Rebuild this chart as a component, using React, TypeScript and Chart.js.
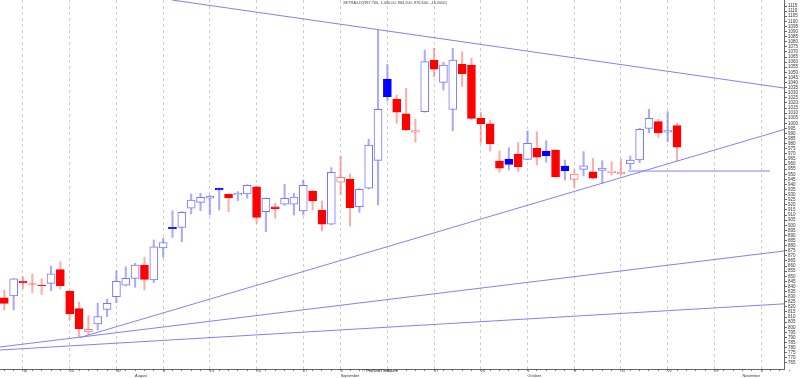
import React, { useEffect, useRef } from "react";
import { Chart, registerables } from "chart.js";

Chart.register(...registerables);

// Trading days shown (index 0 = first visible bar); future days extend the axis
const dates = [
  "2012-07-12", "2012-07-13", "2012-07-16", "2012-07-17", "2012-07-18", "2012-07-19", "2012-07-20",
  "2012-07-23", "2012-07-24", "2012-07-25", "2012-07-26", "2012-07-27", "2012-07-30", "2012-07-31",
  "2012-08-01", "2012-08-02", "2012-08-03", "2012-08-06", "2012-08-07", "2012-08-08", "2012-08-09",
  "2012-08-10", "2012-08-13", "2012-08-14", "2012-08-15", "2012-08-16", "2012-08-17", "2012-08-20",
  "2012-08-21", "2012-08-22", "2012-08-23", "2012-08-24", "2012-08-27", "2012-08-28", "2012-08-29",
  "2012-08-30", "2012-08-31", "2012-09-04", "2012-09-05", "2012-09-06", "2012-09-07", "2012-09-10",
  "2012-09-11", "2012-09-12", "2012-09-13", "2012-09-14", "2012-09-17", "2012-09-18", "2012-09-19",
  "2012-09-20", "2012-09-21", "2012-09-24", "2012-09-25", "2012-09-26", "2012-09-27", "2012-09-28",
  "2012-10-01", "2012-10-02", "2012-10-03", "2012-10-04", "2012-10-05", "2012-10-08", "2012-10-09",
  "2012-10-10", "2012-10-11", "2012-10-12", "2012-10-15", "2012-10-16", "2012-10-17", "2012-10-18",
  "2012-10-19", "2012-10-22", "2012-10-23", "2012-10-24", "2012-10-25", "2012-10-26", "2012-10-29",
  "2012-10-30", "2012-10-31", "2012-11-01", "2012-11-02", "2012-11-05", "2012-11-06", "2012-11-07",
  "2012-11-08",
];

const openV = [
  829, 830.7, 845.4, 842.7, 841.5, 843.1, 856.5, 835.3, 818.3, 795.4,
  803.2, 817.6, 830, 841.2, 848, 860.8, 846.4, 877.7, 898, 898,
  916.7, 922.5, 926.5, 936.3, 930.4, 929.7, 930.7, 937.8, 913.3, 918.2,
  920.6, 920.6, 914, 933.6, 914.7, 901, 942.2, 945.1, 918.2, 936.3,
  963.7, 1043.4, 1023.5, 1009.4, 991.2, 1011.4, 1061.8, 1040.2, 1013.7, 1057.8,
  1057.2, 1004.9, 999.6, 963, 965, 969.6, 964.7, 975.5, 972.8, 973.8,
  958.1, 945.1, 954.9, 952.5, 953.9, 951.6, 950.3, 960.1, 964, 995.1,
  1001.6, 991.2, 997.7,
];
const highV = [
  836.6, 848, 849.6, 852.3, 847.6, 860.1, 864.3, 836, 824.8, 811.4,
  823.5, 827.7, 855.5, 859.4, 862.7, 868.6, 885.6, 887.3, 914.3, 913.5,
  930.7, 931.4, 929.5, 936.8, 930.8, 933, 939.8, 938.5, 927, 921.6,
  940.2, 931.4, 944.4, 934, 923.8, 956.5, 968, 950.3, 936, 984.3,
  1092, 1057.8, 1027.7, 1034.3, 1004.2, 1071.9, 1073.5, 1059.8, 1073.5, 1070.2,
  1063.7, 1010.8, 1003.2, 972.8, 976.1, 981.4, 992.7, 991.8, 982.9, 974.3,
  964, 954.2, 972.2, 965.7, 963.3, 962.4, 964.7, 967.9, 995.1, 1013.7,
  1003.9, 1011.4, 1000,
];
const lowV = [
  817, 817, 838.2, 834, 832, 835.9, 837.5, 807.8, 790.8, 792.5,
  797.4, 810.4, 824.1, 840.5, 839.2, 836.6, 843.7, 868.6, 888.2, 883.9,
  911.1, 914.3, 910.1, 915, 913.3, 924.1, 926.5, 902, 893.7, 906.9,
  919.5, 910.1, 910.1, 915, 894.4, 900.5, 930.4, 899.3, 912.7, 935.5,
  919.9, 1021.9, 1000, 993, 981.4, 1010.8, 1045.7, 1032.6, 992.5, 1035.9,
  1003.2, 980.4, 972.8, 952, 954.2, 952.5, 964.2, 959.1, 961.8, 947,
  944.4, 937.3, 948.3, 945.5, 941.2, 949.3, 949.8, 954.9, 961.4, 990.8,
  986.3, 982, 963.2,
];
const closeV = [
  823.5, 847.4, 843.7, 842.2, 840.8, 852.3, 840.8, 813, 798.6, 798,
  810.4, 823.5, 845.1, 848, 861.1, 847, 879, 883, 896.7, 912.7,
  924.8, 927.5, 928.7, 934.6, 926.8, 931.4, 939.2, 907.8, 926.5, 916.3,
  926.5, 927.7, 939.2, 924.1, 901, 952, 947.1, 917.3, 935.3, 978.7,
  1013.7, 1026.1, 1010.8, 993.4, 992.8, 1060.4, 1053.2, 1057.2, 1062.1, 1048.6,
  1004.9, 999.3, 980, 955.9, 959.8, 957.5, 980.4, 966.7, 968.2, 947.6,
  953.5, 950.3, 958.4, 946.1, 956.2, 953.2, 952.3, 964, 994.1, 1004.9,
  990.8, 992.8, 976.6,
];

// Weekly grid lines (bar index) and their day labels
const gridIdx = [2, 7, 12, 17, 22, 27, 32, 36, 41, 46, 51, 56, 61, 66, 71, 76, 81];
const gridDayLabels = ["16", "23", "30", "6", "13", "20", "27", "3", "10", "17", "24", "1", "8", "15", "22", "29", "5"];
// Month labels (bar index)
const monthIdx = [14, 36, 56, 79];
const monthNames = ["August", "September", "October", "November"];

// Price axis labels
const yTickValues = [
  765, 770, 775, 780, 785, 790, 795, 800, 805, 810, 815, 820, 825, 830, 835, 840, 845, 850,
  855, 860, 865, 870, 875, 880, 885, 890, 895, 900, 905, 910, 915, 920, 925, 930, 935, 940,
  945, 950, 955, 960, 965, 970, 975, 980, 985, 990, 995, 1000, 1005, 1010, 1015, 1020, 1025,
  1030, 1035, 1040, 1045, 1050, 1055, 1060, 1065, 1070, 1075, 1080, 1085, 1090, 1095, 1100,
  1105, 1110, 1115,
];

// Drawn trend lines: start (bar index, price) -> end (bar index, price)
const trendX1 = [17.95, 8.07, -0.46, -0.46, 66.76];
const trendY1 = [1120.9, 789.9, 780.7, 777.7, 953.2];
const trendX2 = [83.45, 83.45, 83.45, 83.45, 81.95];
const trendY2 = [1034.6, 993.9, 874.8, 823.0, 953.2];

const titleText = "XETRA:LIX(997.700, 1,000.00, 963.200, 976.600, -16.2000)";
const watermarkText = "© ProRealTime.com";

const X_MIN = -0.46;
const X_MAX = 83.45;
const Y_MIN = 759.1;
const Y_MAX = 1120.9;
const FONT = "'Liberation Sans', Arial, sans-serif";

export default function App() {
  const ref = useRef<HTMLCanvasElement>(null);

  useEffect(() => {
    if (!ref.current) return;
    const idx = openV.map((_, i) => i);
    const isUp = (i: number) => closeV[i] >= openV[i];
    const isBlue = (i: number) => (i === 0 ? closeV[i] >= openV[i] : closeV[i] >= closeV[i - 1]);
    const bodyBg = idx.map((i) => (isUp(i) ? "#ffffff" : isBlue(i) ? "#0000ff" : "#ff0000"));
    const bodyBorder = idx.map((i) =>
      isBlue(i) ? (isUp(i) ? "#7676ff" : "#0000ff") : isUp(i) ? "#ff7a7a" : "#ff0000"
    );
    const wickColor = idx.map((i) => (isBlue(i) ? "rgba(100,100,255,0.55)" : "rgba(255,90,90,0.5)"));
    const axisDays = dates.map((_, i) => i);

    const lineSets = trendX1.map((x1, k) => ({
      type: "line" as const,
      data: [
        { x: x1, y: trendY1[k] },
        { x: trendX2[k], y: trendY2[k] },
      ],
      borderColor: "#8080ff",
      borderWidth: 1,
      pointRadius: 0,
      tension: 0,
      fill: false,
      order: 0,
    }));

    const chart = new Chart(ref.current, {
      type: "bar",
      data: {
        datasets: [
          {
            type: "bar",
            data: idx.map((i) => ({ x: i, y: [openV[i], closeV[i]] })),
            backgroundColor: bodyBg,
            borderColor: bodyBorder,
            borderWidth: 1,
            borderSkipped: false,
            barThickness: 8,
            grouped: false,
            order: 1,
          } as any,
          {
            type: "bar",
            data: idx.map((i) => ({ x: i, y: [lowV[i], highV[i]] })),
            backgroundColor: wickColor,
            borderWidth: 0,
            barThickness: 1.4,
            grouped: false,
            order: 2,
          } as any,
          ...(lineSets as any[]),
        ],
      },
      options: {
        animation: false,
        responsive: false,
        devicePixelRatio: 1,
        layout: { padding: 0 },
        plugins: { legend: { display: false }, tooltip: { enabled: false }, title: { display: false } },
        scales: {
          x: {
            type: "linear",
            min: X_MIN,
            max: X_MAX,
            offset: false,
            bounds: "data",
            afterBuildTicks: (s: any) => {
              s.ticks = axisDays.map((v) => ({ value: v }));
            },
            afterFit: (s: any) => {
              s.height = 9;
              s.paddingLeft = 0;
              s.paddingRight = 0;
            },
            ticks: {
              autoSkip: false,
              maxRotation: 0,
              minRotation: 0,
              align: "start",
              padding: -2,
              color: "#333",
              font: { family: FONT, size: 3.8, lineHeight: 1.15 },
              callback: (value: any) => {
                const k = gridIdx.indexOf(value);
                const m = monthIdx.indexOf(value);
                const day = k >= 0 ? gridDayLabels[k] : "";
                const mon = m >= 0 ? monthNames[m] : "";
                if (!day && !mon) return "";
                return mon ? [day, mon] : day;
              },
            },
            grid: {
              offset: false,
              drawOnChartArea: true,
              color: (ctx: any) => (ctx.tick && gridIdx.includes(ctx.tick.value) ? "#cfcfcf" : "rgba(0,0,0,0)"),
              tickColor: "#777",
              tickLength: 2,
              lineWidth: 1,
            },
            border: { display: true, color: "#666", width: 1, dash: [3, 3] },
          } as any,
          y: {
            type: "linear",
            position: "right",
            min: Y_MIN,
            max: Y_MAX,
            bounds: "data",
            afterBuildTicks: (s: any) => {
              s.ticks = yTickValues.map((v) => ({ value: v }));
            },
            afterFit: (s: any) => {
              s.width = 16;
              s.paddingTop = 0;
              s.paddingBottom = 0;
            },
            ticks: {
              autoSkip: false,
              padding: 1,
              color: "#333",
              font: { family: FONT, size: 4.5 },
              callback: (v: any) => String(v),
            },
            grid: { drawOnChartArea: false, tickLength: 3, tickColor: "#666" },
            border: { display: true, color: "#666", width: 1 },
          } as any,
        },
      },
    });
    return () => chart.destroy();
  }, []);

  return (
    <div style={{ position: "fixed", left: 0, top: 0, width: 800, height: 378, background: "#fff", overflow: "hidden" }}>
      <canvas ref={ref} width={800} height={378} style={{ display: "block" }} />
      <div
        style={{
          position: "absolute",
          left: 343,
          top: 1,
          fontFamily: FONT,
          fontSize: 3.9,
          color: "#444",
          whiteSpace: "nowrap",
          lineHeight: 1,
        }}
      >
        {titleText}
      </div>
      <div
        style={{
          position: "absolute",
          left: 362,
          top: 369,
          fontFamily: FONT,
          fontSize: 4,
          color: "#222",
          whiteSpace: "nowrap",
          lineHeight: 1,
        }}
      >
        {watermarkText}
      </div>
    </div>
  );
}
